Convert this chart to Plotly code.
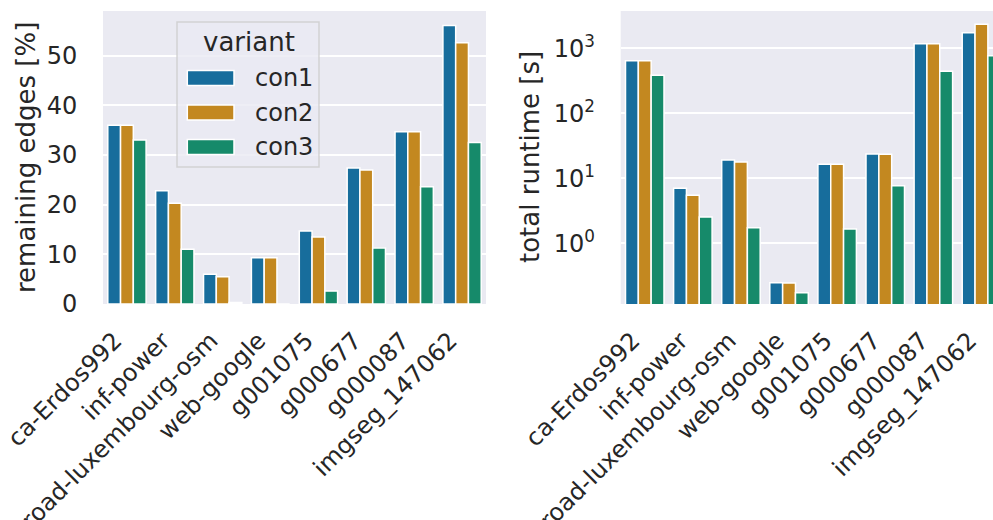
import plotly.graph_objects as go

graphs = ["ca-Erdos992", "inf-power", "road-luxembourg-osm", "web-google",
          "g001075", "g000677", "g000087", "imgseg_147062"]
variants = ["con1", "con2", "con3"]

# remaining edges [%]
edges_con1 = [36.0, 22.8, 6.0, 9.3, 14.7, 27.4, 34.7, 56.1]
edges_con2 = [36.0, 20.3, 5.5, 9.3, 13.5, 27.0, 34.7, 52.6]
edges_con3 = [33.0, 11.0, 0.3, 0.0, 2.6, 11.3, 23.6, 32.5]

# total runtime [s]
runtime_con1 = [645, 7.0, 19.1, 0.248, 16.4, 23.6, 1178, 1740]
runtime_con2 = [645, 5.5, 17.8, 0.245, 16.5, 23.4, 1175, 2340]
runtime_con3 = [384, 2.54, 1.74, 0.174, 1.66, 7.7, 443, 770]

y_ticks_left = [0, 10, 20, 30, 40, 50]
y_ticks_right = [1, 10, 100, 1000]
y_ticktext_right = ["10<sup>0</sup>", "10<sup>1</sup>", "10<sup>2</sup>", "10<sup>3</sup>"]

colors = ["#176D9C", "#C38820", "#168A6A"]
W, H = 993, 520
FONT = "DejaVu Sans"
TXT = "#262626"
BG = "#EAEAF2"


def xp(px):
    return px / W


def yp(py):
    return 1 - py / H


fig = go.Figure()
edges = [edges_con1, edges_con2, edges_con3]
runtimes = [runtime_con1, runtime_con2, runtime_con3]
for i, v in enumerate(variants):
    fig.add_trace(go.Bar(x=graphs, y=edges[i], name=v, marker_color=colors[i],
                         marker_line_color="white", marker_line_width=1.5,
                         xaxis="x", yaxis="y", showlegend=False, offsetgroup=v))
    fig.add_trace(go.Bar(x=graphs, y=runtimes[i], name=v, marker_color=colors[i],
                         marker_line_color="white", marker_line_width=1.5,
                         xaxis="x2", yaxis="y2", showlegend=False, offsetgroup=v))

axis_common = dict(tickfont=dict(family=FONT, size=24, color=TXT), zeroline=False,
                   showline=False, automargin=False)
xaxis_common = dict(tickangle=-45, showgrid=False, ticks="outside", ticklen=12,
                    tickcolor="rgba(0,0,0,0)", ticklabelshift=-12, **axis_common)
yaxis_common = dict(gridcolor="white", gridwidth=2, ticks="outside", ticklen=20,
                    tickcolor="rgba(0,0,0,0)", **axis_common)
fig.update_layout(
    width=W, height=H, margin=dict(l=0, r=0, t=0, b=0, autoexpand=False),
    paper_bgcolor="white", plot_bgcolor=BG,
    barmode="group", bargap=0.2, bargroupgap=0,
    font=dict(family=FONT, color=TXT),
    xaxis=dict(domain=[xp(103), xp(486)], range=[-0.5, 7.5], anchor="y", **xaxis_common),
    yaxis=dict(domain=[yp(304), yp(11)], range=[0, 59], anchor="x",
               tickvals=y_ticks_left, **yaxis_common),
    xaxis2=dict(domain=[xp(620.7), 1], range=[-0.5, 7.24], anchor="y2", **xaxis_common),
    yaxis2=dict(domain=[yp(304), yp(11)], type="log", range=[-0.934, 3.574], anchor="x2",
                tickvals=y_ticks_right, ticktext=y_ticktext_right, **yaxis_common),
)

annotations = [
    dict(text="remaining edges [%]", x=xp(25.5), y=yp(157.5), xref="paper", yref="paper",
         textangle=-90, showarrow=False, font=dict(family=FONT, size=26, color=TXT),
         xanchor="center", yanchor="middle"),
    dict(text="total runtime [s]", x=xp(530), y=yp(157), xref="paper", yref="paper",
         textangle=-90, showarrow=False, font=dict(family=FONT, size=26, color=TXT),
         xanchor="center", yanchor="middle"),
    dict(text="variant", x=xp(248.8), y=yp(42), xref="paper", yref="paper",
         showarrow=False, font=dict(family=FONT, size=26, color=TXT),
         xanchor="center", yanchor="middle"),
]
shapes = [
    dict(type="rect", xref="paper", yref="paper", x0=xp(177), x1=xp(319), y0=yp(167), y1=yp(22),
         fillcolor="rgba(234,234,242,0.8)", line=dict(color="rgba(204,204,204,0.8)", width=1.5),
         layer="above"),
]
swatch_y = [78, 112.5, 147]
for i, v in enumerate(variants):
    shapes.append(dict(type="rect", xref="paper", yref="paper", x0=xp(187.3), x1=xp(234),
                       y0=yp(swatch_y[i] + 7.5), y1=yp(swatch_y[i] - 7.5),
                       fillcolor=colors[i], line=dict(color="white", width=1.5), layer="above"))
    annotations.append(dict(text=v, x=xp(253), y=yp(swatch_y[i]), xref="paper", yref="paper",
                            showarrow=False, font=dict(family=FONT, size=24, color=TXT),
                            xanchor="left", yanchor="middle"))

fig.update_layout(annotations=annotations, shapes=shapes)
fig.write_html("out.html", config={"displayModeBar": False},
               post_script="document.body.style.margin='0px';document.body.style.overflow='hidden';")
